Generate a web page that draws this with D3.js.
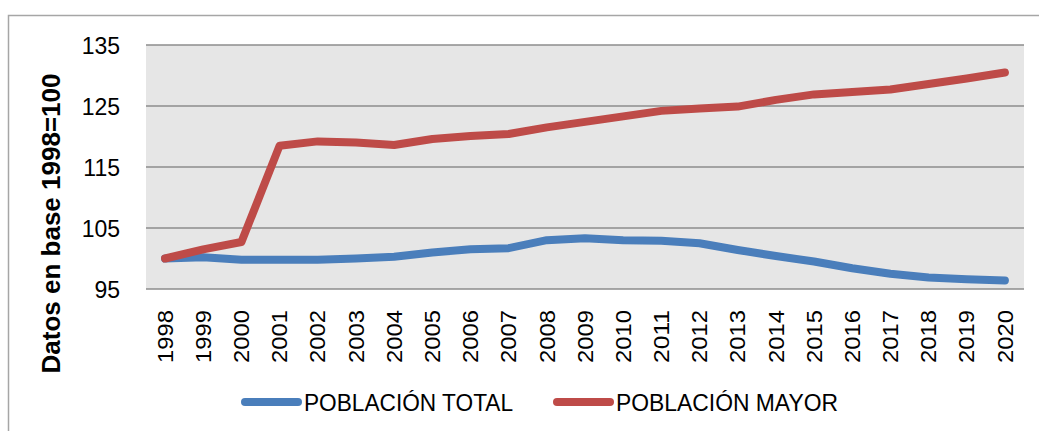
<!DOCTYPE html>
<html>
<head>
<meta charset="utf-8">
<script src="https://cdn.jsdelivr.net/npm/d3@7"></script>
<style>
  body { margin: 0; background: #fff; }
  text { font-family: "Liberation Sans", Arial, sans-serif; }
</style>
</head>
<body>
<div id="chart"></div>
<script>
// chart data
const years = ["1998","1999","2000","2001","2002","2003","2004","2005","2006","2007","2008",
  "2009","2010","2011","2012","2013","2014","2015","2016","2017","2018","2019","2020"];
const poblacionTotal = [100, 100.2, 99.8, 99.8, 99.8, 100.0, 100.3, 101.0, 101.5, 101.7, 103.0,
  103.3, 103.0, 102.9, 102.5, 101.4, 100.4, 99.5, 98.4, 97.5, 96.9, 96.6, 96.4];
const poblacionMayor = [100, 101.5, 102.7, 118.5, 119.2, 119.0, 118.6, 119.6, 120.1, 120.4, 121.5,
  122.4, 123.3, 124.2, 124.6, 124.9, 126.0, 126.9, 127.3, 127.7, 128.6, 129.5, 130.5];
const yTicks = [95, 105, 115, 125, 135];

const width = 1039;
const height = 431;
const plotLeft = 146, plotRight = 1024, plotTop = 45, plotBottom = 289;

const svg = d3.select("#chart")
  .append("svg")
  .attr("width", width)
  .attr("height", height);

// outer frame (only top and left edges are visible in the crop)
svg.append("rect")
  .attr("x", 8.5)
  .attr("y", 15.5)
  .attr("width", width + 20)
  .attr("height", height + 20)
  .attr("fill", "none")
  .attr("stroke", "#a6a6a6")
  .attr("stroke-width", 1.5);

const x = d3.scaleBand()
  .domain(years)
  .range([plotLeft, plotRight]);

const y = d3.scaleLinear()
  .domain([95, 135])
  .range([plotBottom, plotTop]);

// plot background
svg.append("rect")
  .attr("x", plotLeft)
  .attr("y", plotTop)
  .attr("width", plotRight - plotLeft)
  .attr("height", plotBottom - plotTop)
  .attr("fill", "#e6e6e6");

// gridlines
svg.selectAll(".grid")
  .data(yTicks)
  .enter().append("line")
  .attr("x1", plotLeft)
  .attr("x2", plotRight)
  .attr("y1", d => y(d))
  .attr("y2", d => y(d))
  .attr("stroke", "#8c8c8c")
  .attr("stroke-width", 1.5);

// y axis labels
const yAxis = svg.append("g")
  .attr("transform", `translate(${plotLeft - 26},0)`)
  .call(d3.axisLeft(y).tickValues(yTicks).tickSize(0).tickPadding(0));
yAxis.select(".domain").remove();
yAxis.selectAll("text")
  .attr("font-size", 23)
  .attr("font-family", "Liberation Sans, Arial, sans-serif")
  .attr("fill", "#000")
  .attr("dy", "0.35em");

// x axis labels, rotated
const xAxis = svg.append("g")
  .attr("transform", `translate(0,${plotBottom})`)
  .call(d3.axisBottom(x).tickSize(0));
xAxis.select(".domain").remove();
xAxis.selectAll("text")
  .attr("font-size", 22)
  .attr("font-family", "Liberation Sans, Arial, sans-serif")
  .attr("fill", "#000")
  .attr("text-anchor", "end")
  .attr("transform", "rotate(-90)")
  .attr("x", -21)
  .attr("y", 0)
  .attr("dy", "0.35em")
  .attr("textLength", 53)
  .attr("lengthAdjust", "spacingAndGlyphs");

// y title
svg.append("text")
  .attr("transform", `translate(60,${(72 + 375) / 2}) rotate(-90)`)
  .attr("text-anchor", "middle")
  .attr("font-size", 26)
  .attr("font-weight", "bold")
  .attr("fill", "#000")
  .text("Datos en base 1998=100");

const line = d3.line()
  .x((d, i) => x(years[i]) + x.bandwidth() / 2)
  .y(d => y(d));

const series = [
  { name: "POBLACIÓN TOTAL", values: poblacionTotal, color: "#4a7ebb" },
  { name: "POBLACIÓN MAYOR", values: poblacionMayor, color: "#be4b48" }
];

series.forEach(s => {
  svg.append("path")
    .datum(s.values)
    .attr("d", line)
    .attr("fill", "none")
    .attr("stroke", s.color)
    .attr("stroke-width", 8)
    .attr("stroke-linejoin", "round")
    .attr("stroke-linecap", "round");
});

// legend
const legendX = [245, 557];
series.forEach((s, i) => {
  svg.append("line")
    .attr("x1", legendX[i])
    .attr("x2", legendX[i] + 53)
    .attr("y1", 402)
    .attr("y2", 402)
    .attr("stroke", s.color)
    .attr("stroke-width", 8)
    .attr("stroke-linecap", "round");
  svg.append("text")
    .attr("x", legendX[i] + 59)
    .attr("y", 411)
    .attr("font-size", 24)
    .attr("fill", "#000")
    .attr("textLength", i === 0 ? 209 : 222)
    .attr("lengthAdjust", "spacingAndGlyphs")
    .text(s.name);
});
</script>
</body>
</html>
